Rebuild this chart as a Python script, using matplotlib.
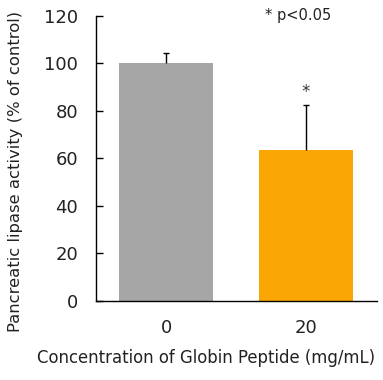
import matplotlib
matplotlib.use("Agg")
import matplotlib.pyplot as plt

# data
concentrations = ["0", "20"]
activity = [100.0, 63.6]
errors = [4.3, 18.8]
bar_colors = ["#A6A6A6", "#FAA604"]
significant = [False, True]

plt.rcParams['font.family'] = ['DejaVu Sans']

fig = plt.figure(figsize=(3.83, 3.80), dpi=100)
ax = fig.add_axes([0.251, 0.208, 0.733, 0.750])

x = list(range(len(concentrations)))
ax.bar(x, activity, width=0.67, color=bar_colors, zorder=2)
_, caps, _ = ax.errorbar(x, activity, yerr=[[0] * len(errors), errors], fmt="none",
                         ecolor="black", elinewidth=1.0, capsize=2.2, capthick=1.0, zorder=3)
# only the upper caps are shown
for cap in caps:
    if list(cap.get_ydata()) == activity:
        cap.set_visible(False)

for xi, v, e, sig in zip(x, activity, errors, significant):
    if sig:
        ax.text(xi, v + e + 2.0, "*", ha="center", va="bottom", fontsize=12, color="#333333")

ax.text(0.72, 1.0, "* p<0.05", transform=ax.transAxes, ha="center", va="center",
        fontsize=10.5, color="#222222")

ax.set_xlim(-0.5, 1.507)
ax.set_ylim(0, 120)
ax.set_yticks([0, 20, 40, 60, 80, 100, 120])
ax.set_xticks(x)
ax.set_xticklabels(concentrations)

for side in ["top", "right"]:
    ax.spines[side].set_visible(False)
ax.spines["left"].set_linewidth(1.0)
ax.spines["bottom"].set_linewidth(1.0)

ax.tick_params(axis="y", direction="in", length=5, width=1.0, labelsize=13, pad=13,
               labelcolor="#222222")
ax.tick_params(axis="x", length=0, labelsize=13, pad=13, labelcolor="#222222")

ax.set_xlabel("Concentration of Globin Peptide (mg/mL)", fontsize=11.9, color="#222222")
ax.set_ylabel("Pancreatic lipase activity (% of control)", fontsize=11.8, color="#222222")
ax.xaxis.set_label_coords(0.39, -0.2)
ax.yaxis.set_label_coords(-0.288, 0.453)
ax.xaxis.label.set_va("center")
ax.yaxis.label.set_va("center")

fig.savefig("out.png", dpi=100)
